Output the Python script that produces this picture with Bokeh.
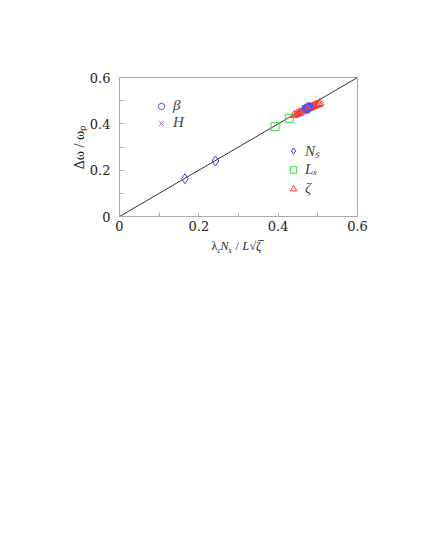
import math
from bokeh.plotting import figure
from bokeh.models import (FixedTicker, CustomJSTickFormatter, Legend, LegendItem, Range1d, Title)
from bokeh.embed import file_html
from bokeh.resources import INLINE

# ---- data ----
line_x = [0.0, 0.6]
line_y = [0.0, 0.6]

ns_x = [0.165, 0.242, 0.475]
ns_y = [0.163, 0.240, 0.470]

lx_x = [0.392, 0.428, 0.470]
lx_y = [0.388, 0.424, 0.462]

beta_x = [0.470, 0.473, 0.475, 0.477, 0.479]
beta_y = [0.465, 0.468, 0.470, 0.472, 0.474]

h_x = [0.472, 0.476, 0.478]
h_y = [0.467, 0.471, 0.473]

zeta_x = [0.440, 0.446, 0.451, 0.455, 0.459, 0.462, 0.466, 0.470, 0.474, 0.478,
          0.482, 0.486, 0.490, 0.494, 0.498, 0.502, 0.505]
zeta_y = [0.437, 0.442, 0.446, 0.449, 0.452, 0.455, 0.458, 0.461, 0.465, 0.468,
          0.471, 0.474, 0.477, 0.480, 0.483, 0.486, 0.489]

major_ticks = [0.0, 0.2, 0.4, 0.6]
minor_ticks = [0.1, 0.3, 0.5]

SERIF = "Liberation Serif"
TICKFONT = "DejaVu Serif"
GRAY = "#aaaaaa"
TXT = "#222222"

W, H = 409, 470
p = figure(width=W, height=H, output_backend="svg", toolbar_location=None,
           x_range=Range1d(0, 0.6), y_range=Range1d(0, 0.6),
           min_border_left=119, min_border_right=52, min_border_top=77,
           min_border_bottom=H - 77 - 139)
p.background_fill_color = "white"
p.border_fill_color = "white"
p.outline_line_color = GRAY
p.grid.visible = False

for ax in (p.xaxis[0], p.yaxis[0]):
    ax.ticker = FixedTicker(ticks=major_ticks, minor_ticks=minor_ticks)
    ax.formatter = CustomJSTickFormatter(code="return tick === 0 ? '0' : tick.toFixed(1);")
    ax.axis_line_color = GRAY
    ax.major_tick_line_color = GRAY
    ax.minor_tick_line_color = GRAY
    ax.major_tick_in = 4
    ax.major_tick_out = 0
    ax.minor_tick_in = 4
    ax.minor_tick_out = 0
    ax.major_label_text_font = TICKFONT
    ax.major_label_text_font_size = "13px"
    ax.major_label_text_color = TXT
p.xaxis[0].major_label_standoff = 4
p.yaxis[0].major_label_standoff = 9

p.yaxis[0].axis_label = "Δω / ωₚ"
p.yaxis[0].axis_label_text_font = SERIF
p.yaxis[0].axis_label_text_font_style = "normal"
p.yaxis[0].axis_label_text_font_size = "14px"
p.yaxis[0].axis_label_text_color = TXT
p.yaxis[0].axis_label_standoff = 0

# diagonal
p.line(line_x, line_y, line_color="#333333", line_width=1)

r_zeta = p.scatter(zeta_x, zeta_y, marker="triangle", size=8, fill_color=None,
                   line_color="#ff3333", line_width=1)
r_lx = p.scatter(lx_x, lx_y, marker="square", size=8, fill_color=None,
                 line_color="#33dd33", line_width=1)
r_ns = p.scatter(ns_x, ns_y, marker="diamond", size=10, fill_color=None,
                 line_color="#3a3aff", line_width=1)
r_beta = p.scatter(beta_x, beta_y, marker="circle", size=8, fill_color=None,
                   line_color="#4f4fff", line_width=1)
r_h = p.scatter(h_x, h_y, marker="x", size=7, line_color="#aa55aa", line_width=1)

leg1 = Legend(items=[LegendItem(label="β", renderers=[r_beta]),
                     LegendItem(label="H", renderers=[r_h])],
              location=(34, 85))
leg2 = Legend(items=[LegendItem(label="Nₛ", renderers=[r_ns]),
                     LegendItem(label="Lₓ", renderers=[r_lx]),
                     LegendItem(label="ζ", renderers=[r_zeta])],
              location=(166, 18))
for lg, h in ((leg1, 16), (leg2, 19)):
    lg.background_fill_alpha = 0
    lg.border_line_alpha = 0
    lg.padding = 0
    lg.margin = 0
    lg.spacing = 0
    lg.glyph_width = 16
    lg.glyph_height = h
    lg.label_height = h
    lg.label_standoff = 4
    lg.label_text_font = SERIF
    lg.label_text_font_style = "italic"
    lg.label_text_font_size = "15px"
    lg.label_text_baseline = "middle"
    p.add_layout(lg)

# x axis label pieces as titles below the axis; zero-height rows placed on one line
pieces = [("λ", 92, "12px", "normal", -39),
          ("c", 98, "8px", "italic", -42),
          ("N", 101, "12px", "italic", -39),
          ("s", 109, "8px", "italic", -42),
          ("/", 116, "12px", "normal", -39),
          ("L", 123, "12px", "italic", -39),
          ("√ζ̅", 130, "12px", "normal", -39)]
for txt, off, size, style, so in pieces:
    p.add_layout(Title(text=txt, align="left", offset=off, standoff=so,
                       text_font=SERIF, text_font_size=size, text_font_style=style,
                       text_color=TXT), "below")

open("out.html", "w").write(file_html(p, INLINE))
